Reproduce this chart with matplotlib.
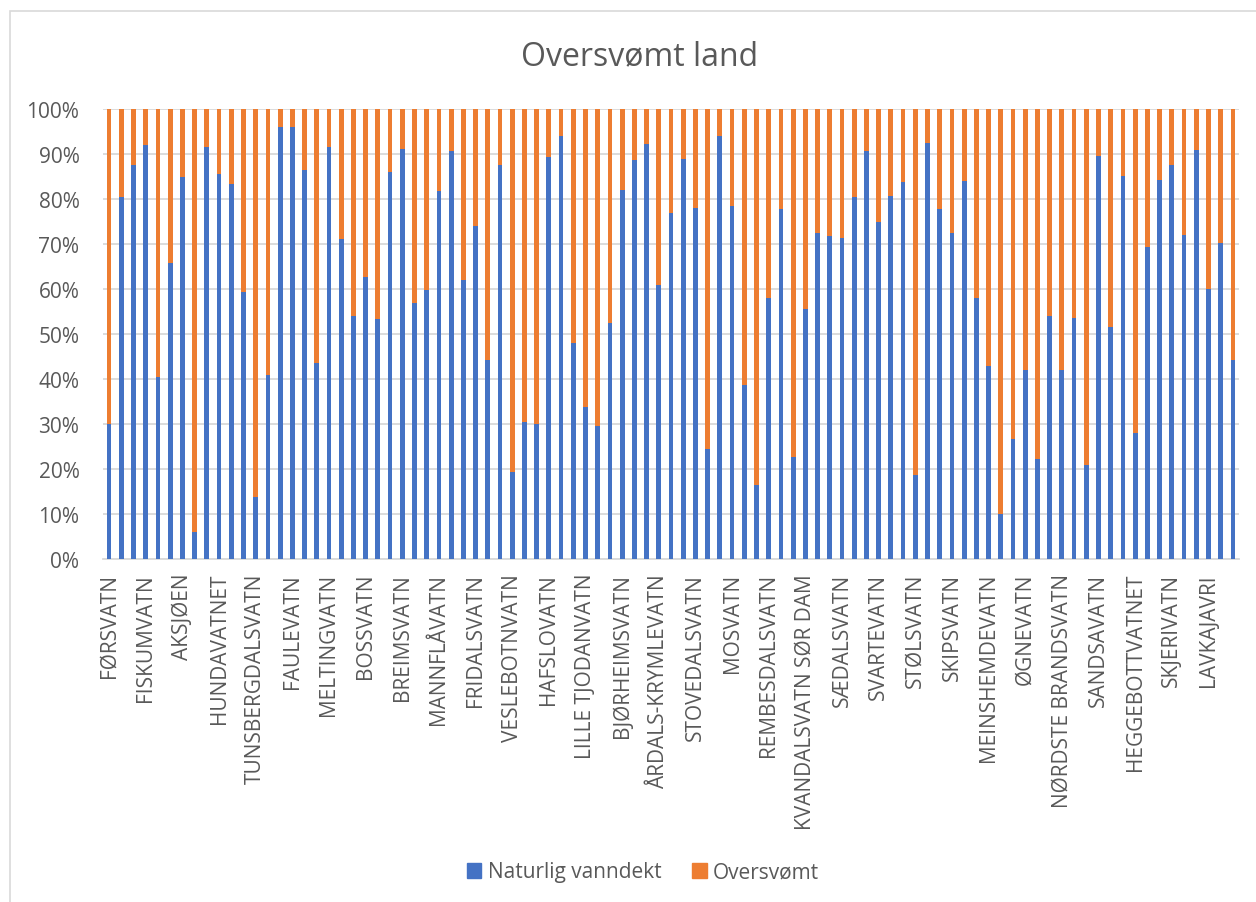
import matplotlib.pyplot as plt
import numpy as np
from matplotlib.patches import Rectangle, Patch

plt.rcParams['font.family'] = ['Open Sans', 'DejaVu Sans']

# Names shown on the axis (every third lake carries a label)
tick_labels = [
    "FØRSVATN", "FISKUMVATN", "AKSJØEN", "HUNDAVATNET", "TUNSBERGDALSVATN",
    "FAULEVATN", "MELTINGVATN", "BOSSVATN", "BREIMSVATN", "MANNFLÅVATN",
    "FRIDALSVATN", "VESLEBOTNVATN", "HAFSLOVATN", "LILLE TJODANVATN",
    "BJØRHEIMSVATN", "ÅRDALS-KRYMLEVATN", "STOVEDALSVATN", "MOSVATN",
    "REMBESDALSVATN", "KVANDALSVATN SØR DAM", "SÆDALSVATN", "SVARTEVATN",
    "STØLSVATN", "SKIPSVATN", "MEINSHEMDEVATN", "ØGNEVATN",
    "NØRDSTE BRANDSVATN", "SANDSAVATN", "HEGGEBOTTVATNET", "SKJERIVATN",
    "LAVKAJAVRI",
]

# Share of natural water cover, percent (one value per lake)
naturlig = [
    30.1, 80.4, 87.6, 91.9, 40.4, 65.8, 84.8, 6.0, 91.5, 85.6,
    83.4, 59.3, 13.8, 40.8, 96.1, 96.1, 86.5, 43.5, 91.5, 71.1,
    53.9, 62.7, 53.4, 85.9, 91.1, 56.8, 59.7, 81.7, 90.7, 62.0,
    73.9, 44.3, 87.6, 19.3, 30.4, 30.1, 89.4, 94.1, 47.9, 33.8,
    29.5, 52.5, 82.0, 88.6, 92.3, 60.8, 76.8, 89.0, 77.9, 24.5,
    93.9, 78.5, 38.6, 16.4, 57.9, 77.7, 22.7, 55.6, 72.4, 71.7,
    71.3, 80.5, 90.7, 74.9, 80.6, 83.8, 18.7, 92.4, 77.7, 72.4,
    84.0, 58.1, 43.0, 10.1, 26.7, 42.0, 22.2, 54.1, 42.0, 53.6,
    20.8, 89.5, 51.6, 85.2, 28.0, 69.4, 84.2, 87.6, 71.9, 91.0,
    59.9, 70.3, 44.2,
]
oversvomt = [100 - v for v in naturlig]

blue = '#4472C4'
orange = '#ED7D31'
grid_c = '#D9D9D9'
text_c = '#595959'

W, H = 1256, 903
fig = plt.figure(figsize=(W / 100, H / 100), dpi=100)
ax = fig.add_axes([103 / W, 1 - 560 / H, (1239 - 103) / W, (560 - 110) / H])

x = np.arange(len(naturlig))
ax.bar(x, naturlig, width=0.39, color=blue, zorder=3)
ax.bar(x, oversvomt, width=0.39, bottom=naturlig, color=orange, zorder=3)

ax.set_xlim(-0.5, len(naturlig) - 0.5)
ax.set_ylim(0, 100)
ax.set_yticks(np.arange(0, 101, 10))
ax.set_yticklabels([f"{v}%" for v in range(0, 101, 10)])
ax.yaxis.grid(True, color=grid_c, linewidth=1.3, zorder=0)
ax.set_axisbelow(True)

ax.set_xticks(x[::3])
ax.set_xticklabels(tick_labels, rotation=90, va='top', ha='center')

for s in ['top', 'right', 'left']:
    ax.spines[s].set_visible(False)
ax.spines['bottom'].set_color(grid_c)
ax.spines['bottom'].set_linewidth(1.3)
ax.tick_params(axis='both', length=0, colors=text_c, labelsize=15)
ax.tick_params(axis='x', pad=10)
ax.tick_params(axis='y', pad=17)

fig.text(640 / W, 1 - 57 / H, "Oversvømt land", ha='center', va='center',
         fontsize=23, color=text_c)

handles = [Patch(color=blue, label='Naturlig vanndekt'),
           Patch(color=orange, label='Oversvømt')]
fig.legend(handles=handles, loc='center', bbox_to_anchor=(643 / W, 1 - 873 / H),
           ncol=2, frameon=False, fontsize=15, labelcolor=text_c,
           handlelength=0.7, handleheight=0.7, handletextpad=0.3,
           columnspacing=1.5)

# light outer frame of the chart area
fig.patches.append(Rectangle((10 / W, -0.1), 2, 1 - 12 / H + 0.1,
                             transform=fig.transFigure, fill=False,
                             edgecolor=grid_c, linewidth=1.2))

fig.savefig('out.png', dpi=100, facecolor='white')
